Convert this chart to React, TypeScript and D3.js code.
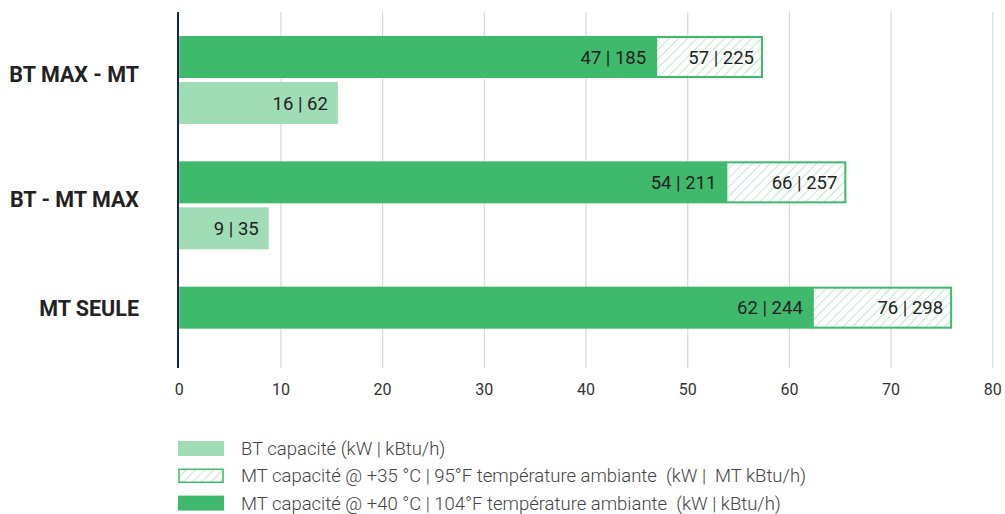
import React, { useEffect, useRef } from 'react';
import * as d3 from 'd3';

// categories (top to bottom)
const categories = ['BT MAX - MT', 'BT - MT MAX', 'MT SEULE'];

// MT capacity @ +40 °C (dark green), kW
const mt40Values = [46.9, 53.8, 62.3];
const mt40Labels = ['47 | 185', '54 | 211', '62 | 244'];

// MT capacity @ +35 °C (hatched, total length), kW
const mt35Values = [57.4, 65.6, 76.0];
const mt35Labels = ['57 | 225', '66 | 257', '76 | 298'];

// BT capacity (light green), kW — null where there is none
const btValues = [15.6, 8.8, null];
const btLabels = ['16 | 62', '9 | 35', ''];

const xTicks = [0, 10, 20, 30, 40, 50, 60, 70, 80];

const legendLabels = [
  'BT capacité (kW | kBtu/h)',
  'MT capacité @ +35 °C | 95°F température ambiante  (kW |  MT kBtu/h)',
  'MT capacité @ +40 °C | 104°F température ambiante  (kW | kBtu/h)'
];

const DARK = '#3fb96b';
const LIGHT = '#a0dcb6';
const HATCH = '#a6dfba';
const FONT = 'Roboto, sans-serif';

export default function App() {
  const ref = useRef<SVGSVGElement>(null);

  useEffect(() => {
    const width = 1005;
    const height = 514;
    const plotTop = 12;
    const plotBottom = 368;
    const barH = 42;
    const barGap = 4;

    const svg = d3.select(ref.current);
    svg.selectAll('*').remove();
    svg.attr('width', width).attr('height', height);

    // hatch pattern for the +35 °C extension
    const defs = svg.append('defs');
    const pat = defs.append('pattern')
      .attr('id', 'hatch')
      .attr('patternUnits', 'userSpaceOnUse')
      .attr('width', 6.5)
      .attr('height', 6.5)
      .attr('patternTransform', 'rotate(45)');
    pat.append('rect').attr('width', 6.5).attr('height', 6.5).attr('fill', '#fff');
    pat.append('line')
      .attr('x1', 0).attr('y1', 0).attr('x2', 0).attr('y2', 6.5)
      .attr('stroke', HATCH).attr('stroke-width', 1.4);

    const x = d3.scaleLinear().domain([0, 80]).range([179.2, 992.8]);
    const y = d3.scaleBand<string>().domain(categories).range([36, 412]);

    // gridlines
    svg.append('g')
      .selectAll('line')
      .data(xTicks.slice(1))
      .enter()
      .append('line')
      .attr('x1', (d) => x(d)).attr('x2', (d) => x(d))
      .attr('y1', plotTop).attr('y2', plotBottom)
      .attr('stroke', '#d6dadf').attr('stroke-width', 1.2);

    // tick labels
    svg.append('g')
      .selectAll('text')
      .data(xTicks)
      .enter()
      .append('text')
      .attr('x', (d) => x(d))
      .attr('y', 395)
      .attr('text-anchor', 'middle')
      .attr('font-family', FONT)
      .attr('font-size', 16)
      .attr('fill', '#333')
      .text((d) => d);

    const groups = svg.append('g')
      .selectAll('g')
      .data(categories)
      .enter()
      .append('g')
      .attr('transform', (d) => `translate(0, ${y(d)})`);

    // hatched +35 °C extension
    groups.append('rect')
      .attr('x', (d, i) => x(mt40Values[i]))
      .attr('y', 1)
      .attr('width', (d, i) => x(mt35Values[i]) - x(mt40Values[i]) - 1)
      .attr('height', barH - 2)
      .attr('fill', 'url(#hatch)')
      .attr('stroke', DARK)
      .attr('stroke-width', 2);

    // +40 °C bar
    groups.append('rect')
      .attr('x', x(0))
      .attr('y', 0)
      .attr('width', (d, i) => x(mt40Values[i]) - x(0))
      .attr('height', barH)
      .attr('fill', DARK);

    // BT bar
    groups.filter((d, i) => btValues[i] !== null)
      .append('rect')
      .attr('x', x(0))
      .attr('y', barH + barGap)
      .attr('width', (d) => x(btValues[categories.indexOf(d)] as number) - x(0))
      .attr('height', barH)
      .attr('fill', LIGHT);

    const label = (sel: any) => sel
      .attr('text-anchor', 'end')
      .attr('font-family', FONT)
      .attr('font-size', 18.5)
      .attr('fill', '#222');

    groups.append('text')
      .call(label)
      .attr('x', (d, i) => x(mt40Values[i]) - 10)
      .attr('y', barH / 2 + 6.5)
      .text((d, i) => mt40Labels[i]);

    groups.append('text')
      .call(label)
      .attr('x', (d, i) => x(mt35Values[i]) - 9)
      .attr('y', barH / 2 + 6.5)
      .text((d, i) => mt35Labels[i]);

    groups.filter((d, i) => btValues[i] !== null)
      .append('text')
      .call(label)
      .attr('x', (d) => x(btValues[categories.indexOf(d)] as number) - 10)
      .attr('y', barH + barGap + barH / 2 + 6.5)
      .text((d) => btLabels[categories.indexOf(d)]);

    // category labels
    groups.append('text')
      .attr('x', 139)
      .attr('y', (d, i) => (btValues[i] !== null ? 38 : barH / 2) + 8)
      .attr('text-anchor', 'end')
      .attr('font-family', FONT)
      .attr('font-weight', 'bold')
      .attr('font-size', 21.5)
      .attr('fill', '#222')
      .text((d) => d);

    // y axis line
    svg.append('line')
      .attr('x1', 178).attr('x2', 178)
      .attr('y1', plotTop).attr('y2', plotBottom)
      .attr('stroke', '#14294a').attr('stroke-width', 2);

    // legend
    const legend = svg.append('g')
      .selectAll('g')
      .data(legendLabels)
      .enter()
      .append('g')
      .attr('transform', (d, i) => `translate(178, ${441 + i * 27.3})`);

    legend.append('rect')
      .attr('x', (d, i) => (i === 1 ? 1 : 0))
      .attr('y', (d, i) => (i === 1 ? 1 : 0))
      .attr('width', (d, i) => (i === 1 ? 44 : 46))
      .attr('height', (d, i) => (i === 1 ? 13 : 15))
      .attr('fill', (d, i) => [LIGHT, 'url(#hatch)', DARK][i])
      .attr('stroke', (d, i) => (i === 1 ? DARK : 'none'))
      .attr('stroke-width', 1.5);

    legend.append('text')
      .attr('x', 63)
      .attr('y', 14)
      .attr('font-family', FONT)
      .attr('font-weight', 300)
      .attr('font-size', 18.5)
      .attr('fill', '#444')
      .style('white-space', 'pre')
      .text((d) => d);
  }, []);

  return (
    <svg ref={ref} style={{ position: 'absolute', left: 0, top: 0 }} />
  );
}
